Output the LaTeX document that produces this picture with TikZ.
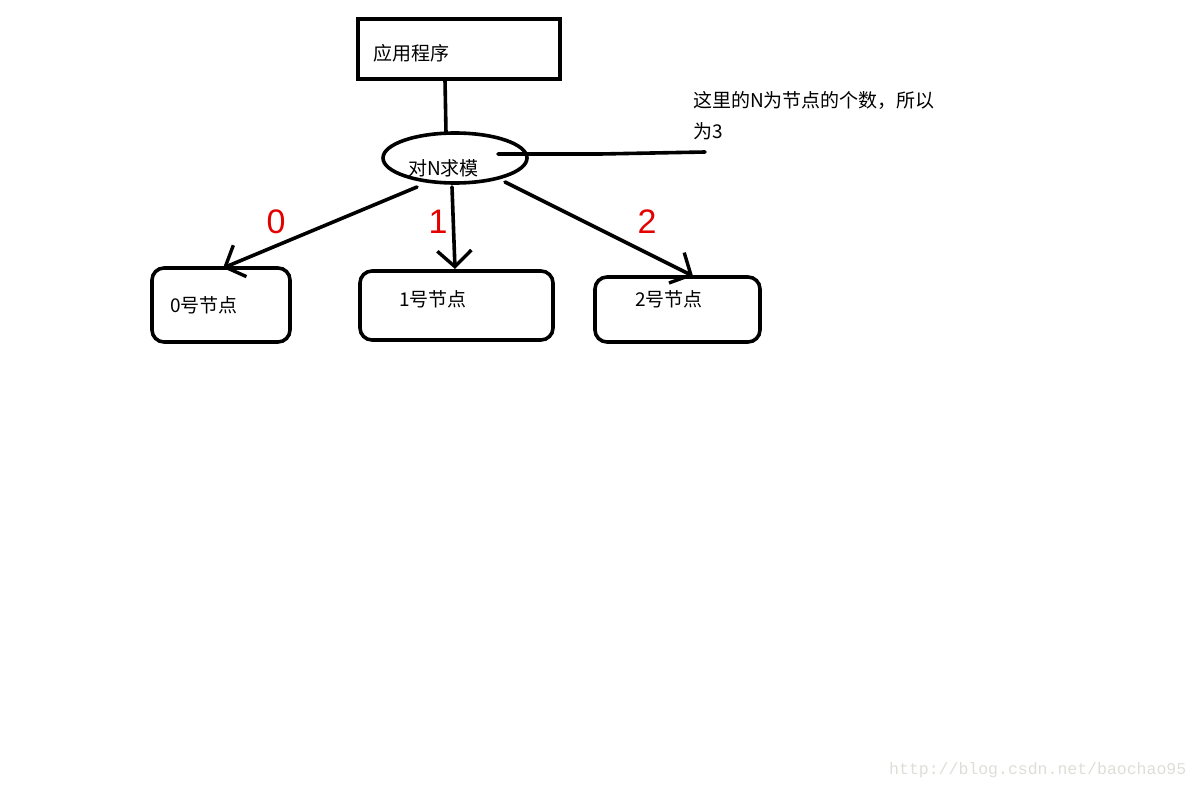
\documentclass[tikz,border=0pt]{standalone}
\usepackage{fontspec}
\setmainfont{Liberation Sans}
\newfontfamily\cjk{Noto Sans CJK SC}
\newfontfamily\wmfont{Liberation Mono}
\usetikzlibrary{shapes.geometric,arrows.meta}
\begin{document}
\begin{tikzpicture}[x=1pt,y=-1pt,
  thick4/.style={line width=3.6pt},
  appbox/.style={draw,thick4,minimum width=202pt,minimum height=60pt,inner sep=0pt},
  nodebox/.style={draw,thick4,rounded corners=12pt,inner sep=0pt},
  cjktext/.style={font=\cjk\fontsize{19}{22}\selectfont,inner sep=0pt,anchor=west},
  redlabel/.style={font=\fontsize{34}{36}\selectfont,text=red!90!black,inner sep=0pt},
  conn/.style={thick4,line cap=round},
  arr/.style={conn,-{Straight Barb[length=16pt,width=34pt,line width=3.4pt]}}
]
\useasboundingbox (0,0) rectangle (1200,789);
% application box
\node[appbox] (app) at (459,49) {};
\node[cjktext] (apptext) at (373,53) {应用程序};
% ellipse
\node[draw,thick4,ellipse,minimum width=144pt,minimum height=50pt,inner sep=0pt] (mod) at (455,158) {};
\node[cjktext] (modtext) at (408,168) {对N求模};
\coordinate (appb) at (445,80);
\coordinate (modtop) at (446,133);
\draw[conn] (appb) -- (modtop);
% annotation
\node[cjktext] (note1) at (693,100) {这里的N为节点的个数，所以};
\node[cjktext] (note2) at (693,131) {为3};
\coordinate (ann0) at (498,154);
\coordinate (ann1) at (705,152);
\draw[conn] (ann0) -- (600,154) -- (ann1);
% target boxes
\node[nodebox,minimum width=138pt,minimum height=74pt] (n0) at (221,305) {};
\node[nodebox,minimum width=193pt,minimum height=69pt] (n1) at (456.5,305.5) {};
\node[nodebox,minimum width=165pt,minimum height=65pt] (n2) at (677.5,309.5) {};
\node[cjktext] (n0text) at (170,305) {0号节点};
\node[cjktext] (n1text) at (399,299) {1号节点};
\node[cjktext] (n2text) at (635,299) {2号节点};
% arrows
\coordinate (s0) at (417,187);
\coordinate (s1) at (452,187);
\coordinate (s2) at (505,182);
\coordinate (e0) at (223,268);
\coordinate (e1) at (455,269);
\coordinate (e2) at (693,276);
\draw[arr] (s0) -- (e0);
\draw[arr] (s1) -- (e1);
\draw[arr] (s2) -- (e2);
% labels
\node[redlabel] (l0) at (276,222) {0};
\node[redlabel] (l1) at (438,222) {1};
\node[redlabel] (l2) at (647,222) {2};
% watermark
\node[font=\wmfont\fontsize{16.5}{18}\selectfont,text={rgb,255:red,222;green,222;blue,216},inner sep=0pt,anchor=west] (wm) at (889,770) {http://blog.csdn.net/baochao95};
\end{tikzpicture}
\end{document}
